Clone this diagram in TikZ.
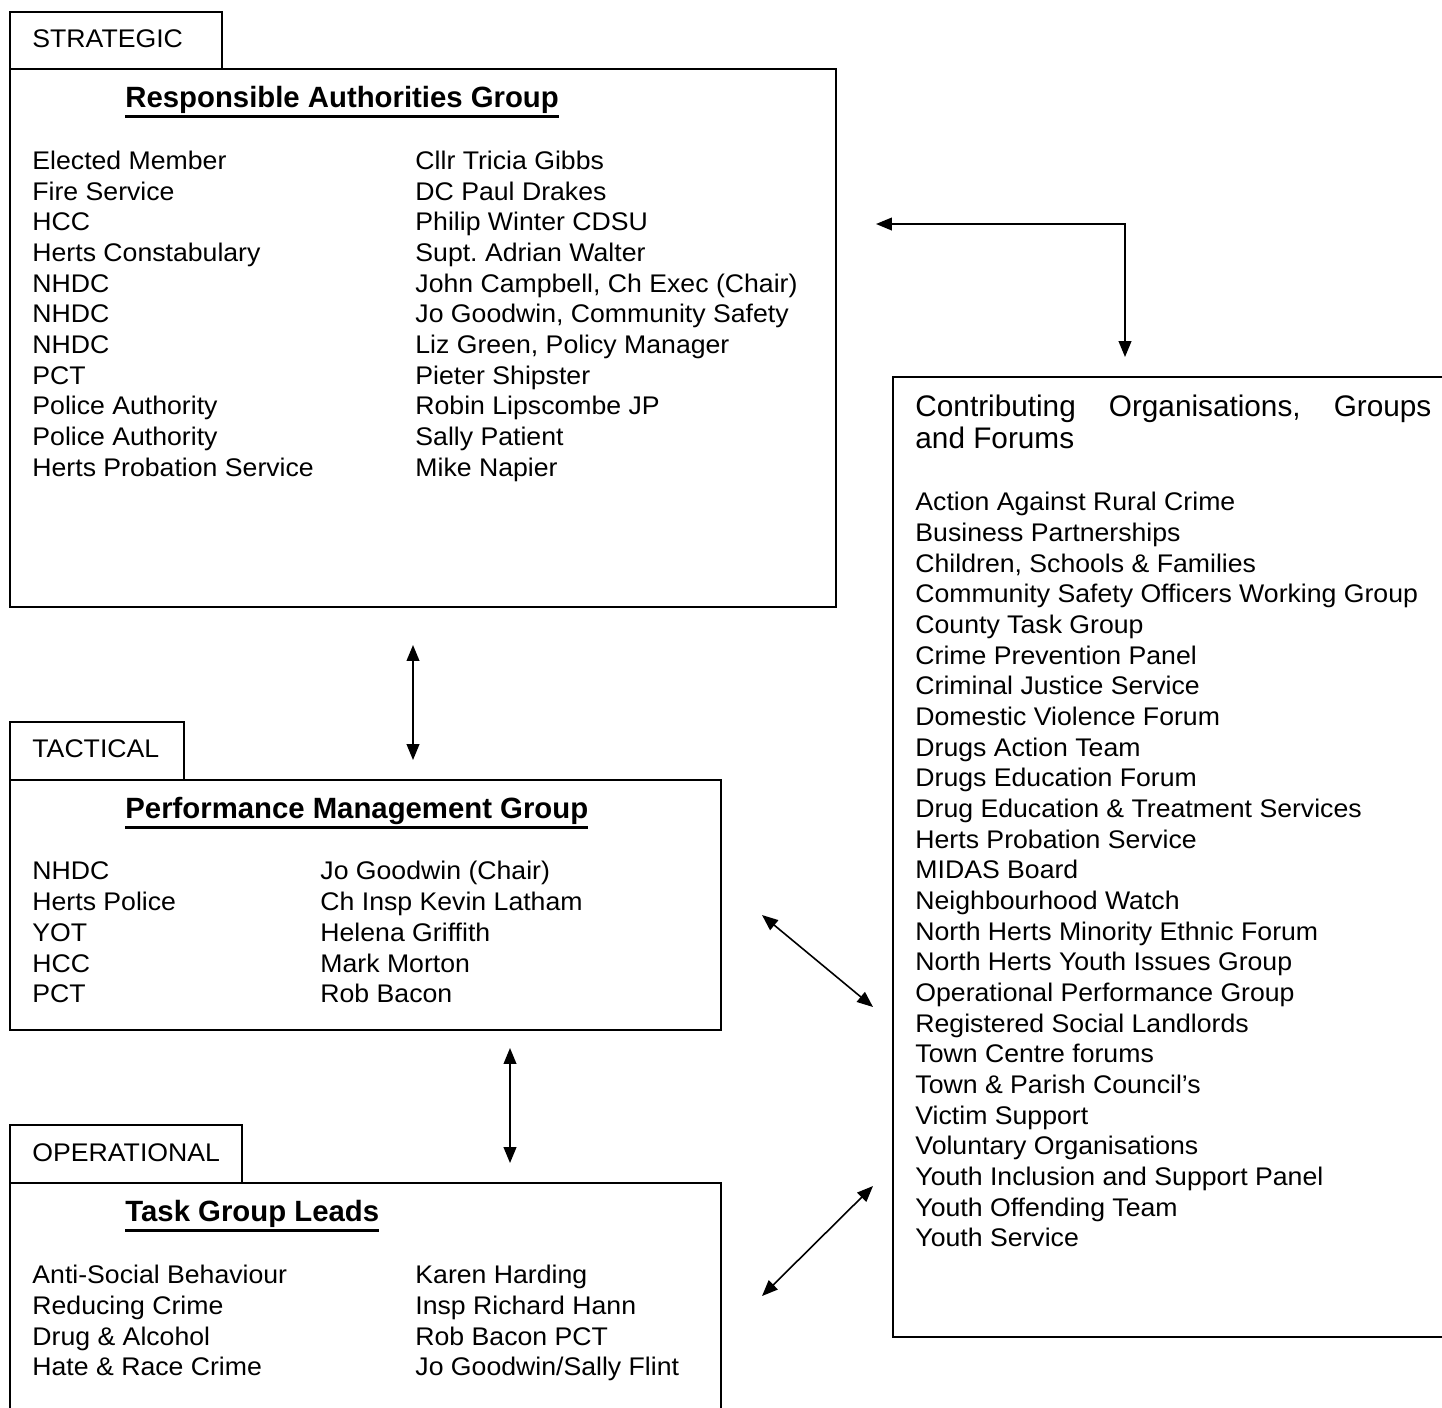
\documentclass[tikz,border=0pt]{standalone}
\usepackage{fontspec}
\setmainfont[FakeStretch=1.045]{Liberation Sans}
\newfontfamily\titlefont{Liberation Sans}
\usetikzlibrary{arrows.meta,fit}
\newcommand{\titleul}[1]{\setbox0\hbox{#1}\rlap{\rule[-5pt]{\wd0}{1.2pt}}\box0}
\frenchspacing
\begin{document}
\begin{tikzpicture}[x=0.4706pt, y=-0.4706pt, >={Triangle[length=7.5pt,width=6pt]}]
	\tikzset{box/.style={draw, line width=0.95pt, inner sep=0pt},
		txt/.style={anchor=base west, inner sep=0pt, font=\fontsize{12}{14}\selectfont},
		ttl/.style={anchor=base west, inner sep=0pt, font=\titlefont\fontsize{13.8}{16}\selectfont\bfseries},
		conn/.style={<->, line width=0.75pt}}
	\useasboundingbox (0,0) rectangle (1442,1407);
	\clip (0,0) rectangle (1442,1407);
	% strategic
	\node[box, fit={(10,12) (222,69)}] (tabstr) {};
	\node[box, fit={(10,69) (836,607)}] (rag) {};
	\node[txt] (tabstrtxt) at (32,47) {STRATEGIC};
	\node[ttl] (ragtitle) at (125,107.3) {\titleul{Responsible Authorities Group}};
	\foreach \lf/\rt [count=\i from 0] in {Elected Member/Cllr Tricia Gibbs, Fire Service/DC Paul Drakes,
		HCC/Philip Winter CDSU, Herts Constabulary/Supt. Adrian Walter, NHDC/{John Campbell, Ch Exec (Chair)},
		NHDC/{Jo Goodwin, Community Safety}, NHDC/{Liz Green, Policy Manager}, PCT/Pieter Shipster,
		Police Authority/Robin Lipscombe JP, Police Authority/Sally Patient, Herts Probation Service/Mike Napier}
	{
		\node[txt] (ragl\i) at (32,{169.5+30.65*\i}) {\lf};
		\node[txt] (ragr\i) at (415,{169.5+30.65*\i}) {\rt};
	}
	% tactical
	\node[box, fit={(10,722) (184,780)}] (tabtac) {};
	\node[box, fit={(10,780) (721,1030)}] (pmg) {};
	\node[txt] (tabtactxt) at (32,757) {TACTICAL};
	\node[ttl] (pmgtitle) at (125,818.3) {\titleul{Performance Management Group}};
	\foreach \lf/\rt [count=\i from 0] in {NHDC/Jo Goodwin (Chair), Herts Police/Ch Insp Kevin Latham,
		YOT/Helena Griffith, HCC/Mark Morton, PCT/Rob Bacon}
	{
		\node[txt] (pmgl\i) at (32,{879.8+30.75*\i}) {\lf};
		\node[txt] (pmgr\i) at (320,{879.8+30.75*\i}) {\rt};
	}
	% operational
	\node[box, fit={(10,1125) (242,1183)}] (tabop) {};
	\node[box, fit={(10,1183) (721,1440)}] (tgl) {};
	\node[txt] (taboptxt) at (32,1161) {OPERATIONAL};
	\node[ttl] (tgltitle) at (125,1221.3) {\titleul{Task Group Leads}};
	\foreach \lf/\rt [count=\i from 0] in {Anti-Social Behaviour/Karen Harding, Reducing Crime/Insp Richard Hann,
		{Drug \& Alcohol}/Rob Bacon PCT, {Hate \& Race Crime}/{Jo Goodwin/Sally Flint}}
	{
		\node[txt] (tgll\i) at (32,{1283.8+30.67*\i}) {\lf};
		\node[txt] (tglr\i) at (415,{1283.8+30.67*\i}) {\rt};
	}
	% contributing organisations
	\node[box, fit={(893,377) (1470,1337)}] (contrib) {};
	\node[txt, font=\titlefont\fontsize{14}{16}\selectfont] (contribt1) at (915,416.3) {\hbox to 242.8pt{Contributing\hfill Organisations,\hfill Groups}};
	\node[txt, font=\titlefont\fontsize{14}{16}\selectfont] (contribt2) at (915,448.3) {and Forums};
	\foreach \org [count=\i from 0] in {Action Against Rural Crime, Business Partnerships,
		{Children, Schools \& Families}, Community Safety Officers Working Group, County Task Group,
		Crime Prevention Panel, Criminal Justice Service, Domestic Violence Forum, Drugs Action Team,
		Drugs Education Forum, Drug Education \& Treatment Services, Herts Probation Service, MIDAS Board,
		Neighbourhood Watch, North Herts Minority Ethnic Forum, North Herts Youth Issues Group,
		Operational Performance Group, Registered Social Landlords, Town Centre forums,
		Town \& Parish Council’s, Victim Support, Voluntary Organisations,
		Youth Inclusion and Support Panel, Youth Offending Team, Youth Service}
		\node[txt] (org\i) at (915,{510.8+30.67*\i}) {\org};
	% arrows
	\coordinate (ragend) at (876,224);
	\coordinate (contribend) at (1125,357);
	\coordinate (ragdown) at (413,645);
	\coordinate (pmgup) at (413,760);
	\coordinate (pmgdown) at (510,1048);
	\coordinate (tglup) at (510,1163);
	\coordinate (pmgside) at (762,915);
	\coordinate (contribmid) at (873,1007);
	\coordinate (contriblow) at (873,1186);
	\coordinate (tglside) at (762,1296);
	\draw[conn] (ragend) -| (contribend);
	\draw[conn] (ragdown) -- (pmgup);
	\draw[conn] (pmgdown) -- (tglup);
	\draw[conn] (pmgside) -- (contribmid);
	\draw[conn] (contriblow) -- (tglside);
\end{tikzpicture}
\end{document}
